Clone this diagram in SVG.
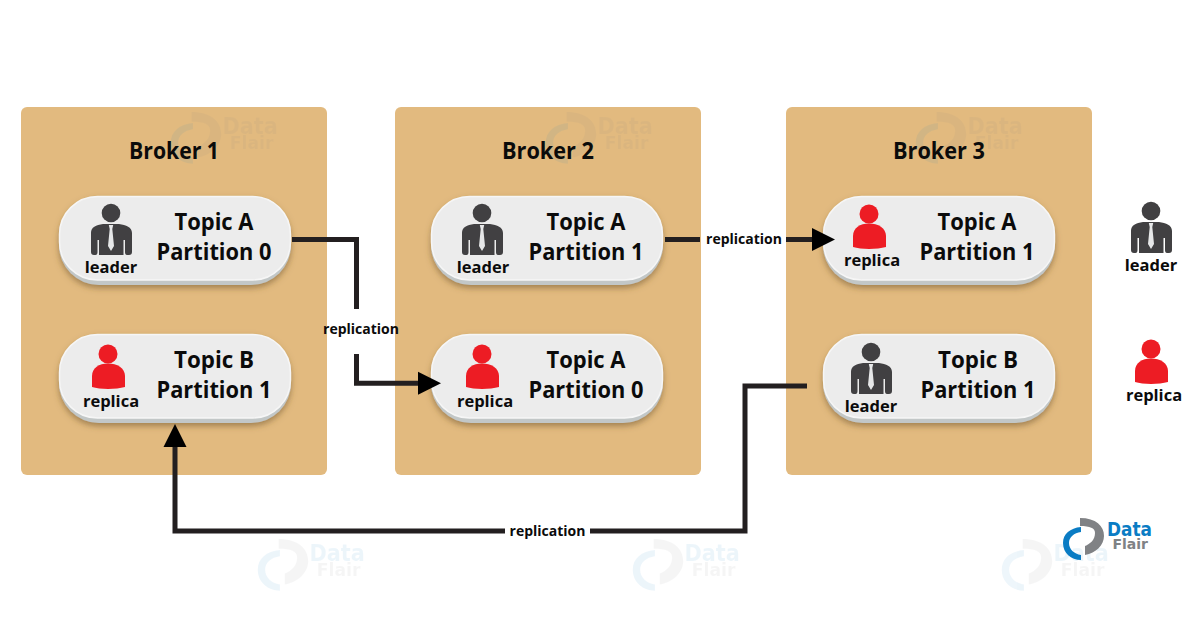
<svg xmlns="http://www.w3.org/2000/svg" width="1200" height="628" viewBox="0 0 1200 628">
<style>
text{font-family:"Open Sans","Noto Sans","Liberation Sans",sans-serif;font-weight:700;fill:#0b0b0b;text-anchor:middle}
.broker{fill:#e2ba7f}
.title{font-size:23px}
.topic{font-size:23.500px}
.role{font-size:16.500px}
.rep{font-size:14px}
.line{fill:none;stroke:#231f20;stroke-width:5}
.dark{fill:#414042}
.red{fill:#ed1c24}
.lb{fill:#0a7cc4}
.lg{fill:#808285}
text.d{font-family:"DejaVu Sans",sans-serif;text-anchor:start}
text.lb{fill:#0a7cc4}
text.lg{fill:#808285}
.wm{opacity:.07}
</style>
<defs>
<filter id="sh" x="-10%" y="-15%" width="120%" height="135%"><feDropShadow dx="0" dy="3" stdDeviation="3" flood-color="#6b4f25" flood-opacity=".55"/></filter>
<g id="pill">
<rect x="0" y="0" width="232" height="89" rx="40" fill="#c2c7c7" filter="url(#sh)"/>
<rect x=".5" y=".5" width="231" height="83.500" rx="38" fill="#ececec" stroke="#f6f6f6" stroke-width="1.500"/>
</g>
<g id="man">
<circle cx="0" cy="0" r="9.300" class="dark"/>
<path class="dark" d="M-20 20C-20 14-15 12-8 11L8 11C15 12 21 14 21 20L21 39Q21 42 18 42L16 42Q14 42 14 39L14 27L12.500 27L12.500 42L-12 42L-12 27L-13.500 27L-13.500 39Q-13.500 42-15.500 42L-17 42Q-20 42-20 39Z"/>
<path fill="#e6e7e8" d="M-2.200 12L2.200 12L1.300 16L3 33L0 38L-3 33L-1.300 16Z"/>
</g>
<g id="woman">
<circle cx="0" cy="0" r="9.500" class="red"/>
<path class="red" d="M-16 33L-16 22C-16 14-9 9.500 0 9.500C9 9.500 17 14 17 22L17 33C8 35.500-8 35.500-16 33Z"/>
</g>
<g id="mark">
<path class="lg" d="M16 0C32 0 40 8 40 18C40 27 32 35 21 37L21 28C26 26 31 22 31 15C31 10 26 8 16 8Z"/>
<path class="lb" d="M17 9C6 10-1 16-1 25C-1 35 7 42 17 42L17 37C10 36 5 31 5 25C5 19 10 15 17 14Z"/>
</g>
<marker id="arrow" markerUnits="userSpaceOnUse" markerWidth="24" markerHeight="24" refX="2" refY="12" orient="auto"><path d="M0 0.500L23 12L0 23.500Z" fill="#000"/></marker>
</defs>

<g id="broker1"><rect class="broker" x="21" y="107" width="306" height="368" rx="6"/></g>
<g id="broker2"><rect class="broker" x="395" y="107" width="306" height="368" rx="6"/></g>
<g id="broker3"><rect class="broker" x="786" y="107" width="306" height="368" rx="6"/></g>

<g id="watermarks-broker">
<g class="wm" transform="translate(172 112) scale(1.230)"><use href="#mark"/><text class="d lg" x="41" y="18" font-size="19" textLength="45" lengthAdjust="spacingAndGlyphs">Data</text><text class="d lg" x="47" y="30" font-size="14">Flair</text></g>
<g class="wm" transform="translate(547 112) scale(1.230)"><use href="#mark"/><text class="d lg" x="41" y="18" font-size="19" textLength="45" lengthAdjust="spacingAndGlyphs">Data</text><text class="d lg" x="47" y="30" font-size="14">Flair</text></g>
<g class="wm" transform="translate(917 112) scale(1.230)"><use href="#mark"/><text class="d lg" x="41" y="18" font-size="19" textLength="45" lengthAdjust="spacingAndGlyphs">Data</text><text class="d lg" x="47" y="30" font-size="14">Flair</text></g>
</g>

<text class="title" x="174" y="159" textLength="90" lengthAdjust="spacingAndGlyphs">Broker 1</text>
<text class="title" x="548" y="159" textLength="92" lengthAdjust="spacingAndGlyphs">Broker 2</text>
<text class="title" x="939" y="159" textLength="92" lengthAdjust="spacingAndGlyphs">Broker 3</text>

<g id="b1-topic-a"><use href="#pill" x="59" y="196"/><use href="#man" x="111" y="213"/><text class="role" x="111" y="273">leader</text><text class="topic" x="214" y="229.500" textLength="79" lengthAdjust="spacingAndGlyphs">Topic A</text><text class="topic" x="214" y="260" textLength="115" lengthAdjust="spacingAndGlyphs">Partition 0</text></g>
<g id="b1-topic-b"><use href="#pill" x="59" y="334"/><use href="#woman" x="108" y="354"/><text class="role" x="111" y="407">replica</text><text class="topic" x="214" y="368" textLength="80" lengthAdjust="spacingAndGlyphs">Topic B</text><text class="topic" x="214" y="398" textLength="115" lengthAdjust="spacingAndGlyphs">Partition 1</text></g>
<g id="b2-topic-a1"><use href="#pill" x="431" y="196"/><use href="#man" x="482" y="213"/><text class="role" x="483" y="273">leader</text><text class="topic" x="586" y="229.500" textLength="79" lengthAdjust="spacingAndGlyphs">Topic A</text><text class="topic" x="586" y="260" textLength="115" lengthAdjust="spacingAndGlyphs">Partition 1</text></g>
<g id="b2-topic-a0"><use href="#pill" x="431" y="334"/><use href="#woman" x="482" y="354"/><text class="role" x="485" y="407">replica</text><text class="topic" x="586" y="368" textLength="79" lengthAdjust="spacingAndGlyphs">Topic A</text><text class="topic" x="586" y="398" textLength="115" lengthAdjust="spacingAndGlyphs">Partition 0</text></g>
<g id="b3-topic-a"><use href="#pill" x="823" y="196"/><use href="#woman" x="869" y="214"/><text class="role" x="872" y="266">replica</text><text class="topic" x="977" y="229.500" textLength="79" lengthAdjust="spacingAndGlyphs">Topic A</text><text class="topic" x="977" y="260" textLength="115" lengthAdjust="spacingAndGlyphs">Partition 1</text></g>
<g id="b3-topic-b"><use href="#pill" x="823" y="334"/><use href="#man" x="871" y="352"/><text class="role" x="871" y="412">leader</text><text class="topic" x="978" y="368" textLength="80" lengthAdjust="spacingAndGlyphs">Topic B</text><text class="topic" x="978" y="398" textLength="115" lengthAdjust="spacingAndGlyphs">Partition 1</text></g>

<g id="connectors">
<path class="line" d="M292 239.500H356.500V309"/>
<path class="line" d="M356.500 354V383.300H420" marker-end="url(#arrow)"/>
<path class="line" d="M665 239.500H700"/>
<path class="line" d="M786 239.500H814" marker-end="url(#arrow)"/>
<path class="line" d="M807 386H745V531H590"/>
<path class="line" d="M505 531H175V445" marker-end="url(#arrow)"/>
<text class="rep" x="361" y="334">replication</text>
<text class="rep" x="744" y="244">replication</text>
<text class="rep" x="547.500" y="536">replication</text>
</g>

<g id="legend-leader"><use href="#man" x="1151" y="211"/><text class="role" x="1151" y="271">leader</text></g>
<g id="legend-replica"><use href="#woman" x="1151" y="349"/><text class="role" x="1154" y="401">replica</text></g>

<g id="watermarks-bottom">
<g class="wm" transform="translate(259 539) scale(1.230)"><use href="#mark"/><text class="d lb" x="41" y="18" font-size="19" textLength="45" lengthAdjust="spacingAndGlyphs">Data</text><text class="d lg" x="47" y="30" font-size="14">Flair</text></g>
<g class="wm" transform="translate(634 539) scale(1.230)"><use href="#mark"/><text class="d lb" x="41" y="18" font-size="19" textLength="45" lengthAdjust="spacingAndGlyphs">Data</text><text class="d lg" x="47" y="30" font-size="14">Flair</text></g>
<g class="wm" transform="translate(1003 539) scale(1.230)"><use href="#mark"/><text class="d lb" x="41" y="18" font-size="19" textLength="45" lengthAdjust="spacingAndGlyphs">Data</text><text class="d lg" x="47" y="30" font-size="14">Flair</text></g>
</g>
<g id="logo" transform="translate(1064 518)"><use href="#mark"/><text class="d lb" x="43" y="18" font-size="19" textLength="45" lengthAdjust="spacingAndGlyphs">Data</text><text class="d lg" x="48.500" y="31" font-size="14">Flair</text></g>
</svg>
